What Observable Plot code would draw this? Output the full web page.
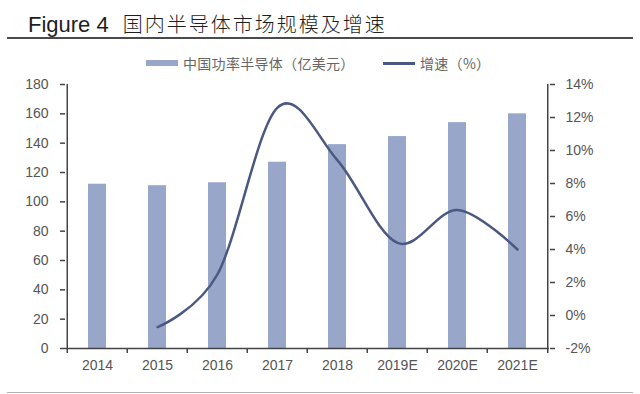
<!DOCTYPE html>
<html><head><meta charset="utf-8">
<script src="https://cdn.jsdelivr.net/npm/d3@7"></script>
<script src="https://cdn.jsdelivr.net/npm/@observablehq/plot@0.6"></script>
<style>
body{margin:0;background:#fff;}
#wrap{position:relative;width:640px;height:394px;overflow:hidden;background:#fff;font-family:"Liberation Sans",Arial,sans-serif;}
#title{position:absolute;left:28px;top:13px;line-height:22px;white-space:nowrap;color:#1e1e1e;}
#title .en{font-family:"Liberation Sans",Arial,sans-serif;font-size:22px;}
#title .zh{font-family:"Noto Sans CJK SC",sans-serif;font-size:20px;letter-spacing:2px;margin-left:14px;font-weight:300;}
#rule1{position:absolute;left:7px;top:37px;width:626px;height:2px;background:#4a4a4a;}
#rule2{position:absolute;left:7px;top:392px;width:626px;height:1px;background:#b0b0b0;}
.lg{position:absolute;font-family:"Noto Sans CJK SC",sans-serif;font-size:14px;color:#666;line-height:16px;white-space:nowrap;letter-spacing:0.3px;}
.sw{position:absolute;}
#chart{position:absolute;left:0;top:70px;}
</style></head><body>
<div id="wrap">
  <div id="title"><span class="en">Figure 4</span><span class="zh">国内半导体市场规模及增速</span></div>
  <div id="rule1"></div>
  <div class="sw" id="sw1" style="left:146px;top:60px;width:32px;height:6px;"></div>
  <div class="lg" id="lg1" style="left:183px;top:55px;"></div>
  <div class="sw" id="sw2" style="left:383px;top:62px;width:32px;height:2.5px;"></div>
  <div class="lg" id="lg2" style="left:420px;top:55px;"></div>
  <div id="chart"></div>
  <div id="rule2"></div>
</div>
<script>
const years = ["2014","2015","2016","2017","2018","2019E","2020E","2021E"];
const marketSize = [112, 111, 113, 127, 139, 144.5, 154, 160];
const growthYears = ["2015","2016","2017","2018","2019E","2020E","2021E"];
const growth = [-0.7, 2.5, 12.6, 9.4, 4.4, 6.4, 4.0];
const leftTicks = [0,20,40,60,80,100,120,140,160,180];
const rightTicks = [-2,0,2,4,6,8,10,12,14];
const seriesNames = ["中国功率半导体（亿美元）", "增速（%）"];

const barColor = "#98a6c9";
const lineColor = "#4b5882";
const axisColor = "#444";

document.getElementById("sw1").style.background = barColor;
document.getElementById("sw2").style.background = lineColor;
document.getElementById("lg1").textContent = seriesNames[0];
document.getElementById("lg2").textContent = seriesNames[1];

// map percentage onto left-axis domain
const pctMin = -2, pctMax = 14, yMax = 180;
const toY = p => (p - pctMin) * yMax / (pctMax - pctMin);
const fromY = v => Math.round(v * (pctMax - pctMin) / yMax + pctMin);

const bars = years.map((y, i) => ({year: y, value: marketSize[i]}));
const line = growthYears.map((y, i) => ({year: y, g: toY(growth[i])}));

const step = (640 - 65 - 91) / years.length;
const tickLen = 5 * yMax / (348 - 84);

const chart = Plot.plot({
  width: 640,
  height: 324,
  marginLeft: 65,
  marginRight: 91,
  marginTop: 14,
  marginBottom: 46,
  style: {fontFamily: '"Liberation Sans", Arial, sans-serif', fontSize: "14px", color: "#555", background: "transparent"},
  x: {type: "band", domain: years, paddingInner: 0.7, paddingOuter: 0.35, axis: null, label: null},
  y: {domain: [0, yMax], axis: null, label: null},
  marks: [
    Plot.barY(bars, {x: "year", y: "value", fill: barColor}),
    Plot.line(line, {x: "year", y: "g", stroke: lineColor, strokeWidth: 2.5, curve: "cardinal"}),
    // axis lines
    Plot.ruleY([0], {stroke: axisColor, strokeWidth: 1.5}),
    Plot.ruleX([years[0]], {dx: -step / 2, y1: -tickLen, y2: yMax, stroke: axisColor, strokeWidth: 1.5}),
    Plot.ruleX([years[years.length - 1]], {dx: step / 2, y1: -tickLen, y2: yMax, stroke: axisColor, strokeWidth: 1.5}),
    // x ticks at category boundaries
    Plot.ruleX(years.slice(1), {dx: -step / 2, y1: -tickLen, y2: 0, stroke: axisColor, strokeWidth: 1.5}),
    Plot.axisX({tickSize: 0, tickPadding: 12, fontSize: 14, fill: "#555", label: null}),
    Plot.axisY(leftTicks, {anchor: "left", tickSize: 5, tickPadding: 12, stroke: axisColor, strokeWidth: 1.5, fontSize: 14, fill: "#555", label: null}),
    Plot.axisY(rightTicks.map(toY), {anchor: "right", tickSize: 5, tickPadding: 11, stroke: axisColor, strokeWidth: 1.5, fontSize: 14, fill: "#555", label: null, tickFormat: v => fromY(v) + "%"})
  ]
});
document.getElementById("chart").appendChild(chart);
</script>
</body></html>
